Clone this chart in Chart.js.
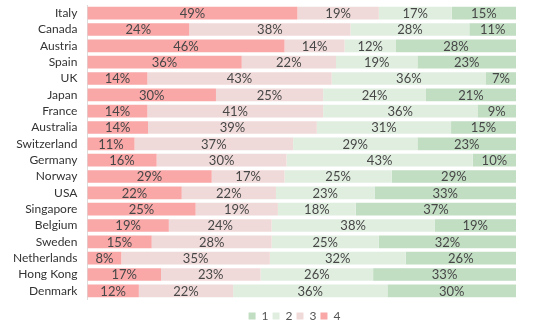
<!DOCTYPE html>
<html>
<head>
<meta charset="utf-8">
<script src="https://cdn.jsdelivr.net/npm/chart.js@4"></script>
<style>
  html, body { margin: 0; padding: 0; background: #fff; }
  #wrap { width: 552px; height: 329px; position: relative; }
</style>
</head>
<body>
<div id="wrap"><canvas id="c"></canvas></div>
<script>
const categories = ["Italy","Canada","Austria","Spain","UK","Japan","France","Australia","Switzerland","Germany","Norway","USA","Singapore","Belgium","Sweden","Netherlands","Hong Kong","Denmark"];
const series4 = [49,24,46,36,14,30,14,14,11,16,29,22,25,19,15,8,17,12];
const series3 = [19,38,14,22,43,25,41,39,37,30,17,22,19,24,28,35,23,22];
const series2 = [17,28,12,19,36,24,36,31,29,43,25,23,18,38,25,32,26,36];
const series1 = [15,11,28,23,7,21,9,15,23,10,29,33,37,19,32,26,33,30];
const seriesNames = ["4","3","2","1"];
const seriesColors = ["#f9a7a7","#f0dad9","#e0eee0","#c1ddc2"];

const raw = [series4, series3, series2, series1];
const totals = categories.map((_, i) => raw.reduce((s, arr) => s + arr[i], 0));

const datasets = raw.map((arr, k) => ({
  label: seriesNames[k],
  data: arr.map((v, i) => v / totals[i] * 100),
  rawValues: arr,
  backgroundColor: seriesColors[k],
  borderWidth: 0,
  categoryPercentage: 1,
  barPercentage: 0.78
}));

const FONT = "Lato, 'Noto Sans', sans-serif";

const valueLabels = {
  id: 'valueLabels',
  afterDatasetsDraw(chart) {
    const ctx = chart.ctx;
    ctx.save();
    ctx.font = "13px " + FONT;
    ctx.fillStyle = "#474747";
    ctx.textAlign = "center";
    ctx.textBaseline = "middle";
    chart.data.datasets.forEach((ds, di) => {
      const meta = chart.getDatasetMeta(di);
      meta.data.forEach((bar, i) => {
        const x = (bar.x + bar.base) / 2;
        ctx.fillText(ds.rawValues[i] + "%", x, bar.y + 0.5);
      });
    });
    ctx.restore();
  }
};

const shiftLegend = {
  id: 'shiftLegend',
  afterLayout(chart) {
    const l = chart.legend;
    l.left += 35; l.right += 35;
    l.top += 7; l.bottom += 7;
  }
};

new Chart(document.getElementById('c'), {
  type: 'bar',
  data: { labels: categories, datasets },
  options: {
    indexAxis: 'y',
    responsive: true,
    maintainAspectRatio: false,
    animation: false,
    layout: { padding: { top: 5, right: 36, left: 3, bottom: 4 } },
    scales: {
      x: { stacked: true, min: 0, max: 100, display: false },
      y: {
        stacked: true,
        grid: { display: false, drawTicks: false },
        border: { display: true, color: "#dcdcdc", width: 1 },
        ticks: { color: "#333", font: { size: 12, family: FONT }, padding: 10, autoSkip: false },
        afterFit(scale) { scale.paddingTop = 0; scale.paddingBottom = 0; }
      }
    },
    plugins: {
      legend: {
        position: 'bottom',
        reverse: true,
        labels: {
          boxWidth: 7, boxHeight: 7, padding: 4,
          color: "#555",
          font: { size: 12, family: FONT }
        }
      },
      tooltip: { enabled: false }
    }
  },
  plugins: [valueLabels, shiftLegend]
});
</script>
</body>
</html>
